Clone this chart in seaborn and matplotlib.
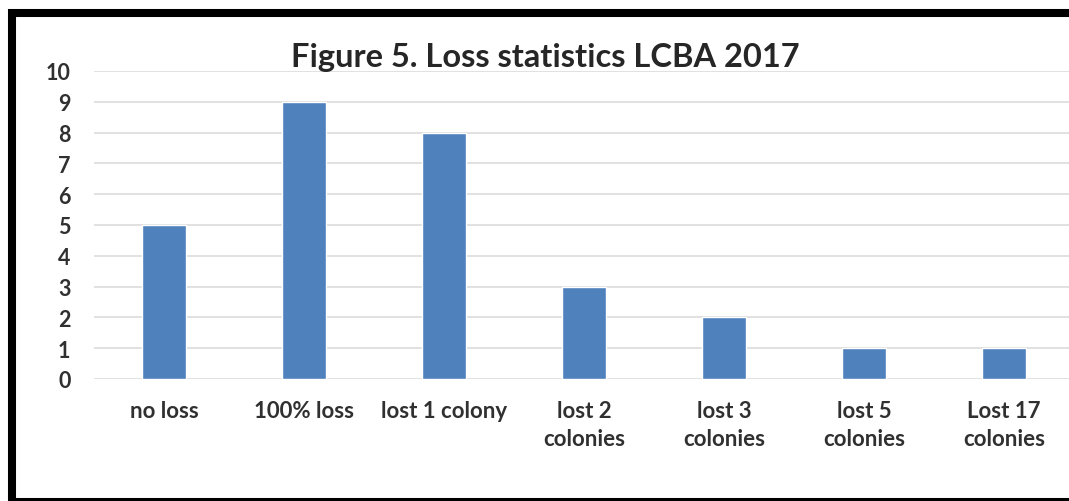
import matplotlib
matplotlib.use("Agg")
import matplotlib.pyplot as plt
import seaborn as sns
import pandas as pd
from matplotlib.patches import Rectangle

categories = ["no loss", "100% loss", "lost 1 colony", "lost 2\ncolonies",
              "lost 3\ncolonies", "lost 5\ncolonies", "Lost 17\ncolonies"]
values = [5, 9, 8, 3, 2, 1, 1]
yticks = list(range(0, 11))
title = "Figure 5. Loss statistics LCBA 2017"

sns.set_theme(style="white")
plt.rcParams['font.family'] = ['Lato', 'DejaVu Sans']
plt.rcParams['font.weight'] = 'bold'

W, H = 1069, 502
fig = plt.figure(figsize=(W / 100, H / 100), dpi=100)
fig.patch.set_facecolor('white')

ax = fig.add_axes([94 / W, (H - 380) / H, 980 / W, 308 / H])
df = pd.DataFrame({"cat": categories, "val": values})
sns.barplot(data=df, x="cat", y="val", color="#4F81BD", saturation=1,
            width=0.314, ax=ax)

ax.set_ylim(0, 10)
ax.set_xlim(-0.5, len(categories) - 0.5)
ax.set_yticks(yticks)
ax.set_yticklabels([str(t) for t in yticks])
ax.grid(axis='y', color='#d9d9d9', linewidth=1.1)
ax.set_axisbelow(True)
for s in ax.spines.values():
    s.set_visible(False)
ax.set_xlabel("")
ax.set_ylabel("")
txtc = '#303030'
ax.tick_params(axis='y', length=0, pad=17, labelsize=15.5, labelcolor=txtc)
ax.tick_params(axis='x', length=0, pad=15, labelsize=16, labelcolor=txtc)
for lab in ax.get_xticklabels() + ax.get_yticklabels():
    lab.set_fontweight('bold')
for lab in ax.get_xticklabels():
    lab.set_linespacing(1.45)

fig.text(545 / W, (H - 57) / H, title, ha='center', va='center',
         fontsize=23.5, fontweight='bold', color='#262626')

rect = Rectangle((11.5 / W, -1 / H), 1.2, (488.5 + 1) / H, transform=fig.transFigure,
                 fill=False, edgecolor='black', linewidth=5.8, clip_on=False)
fig.patches.append(rect)

fig.savefig("out.png", dpi=100, facecolor='white')
